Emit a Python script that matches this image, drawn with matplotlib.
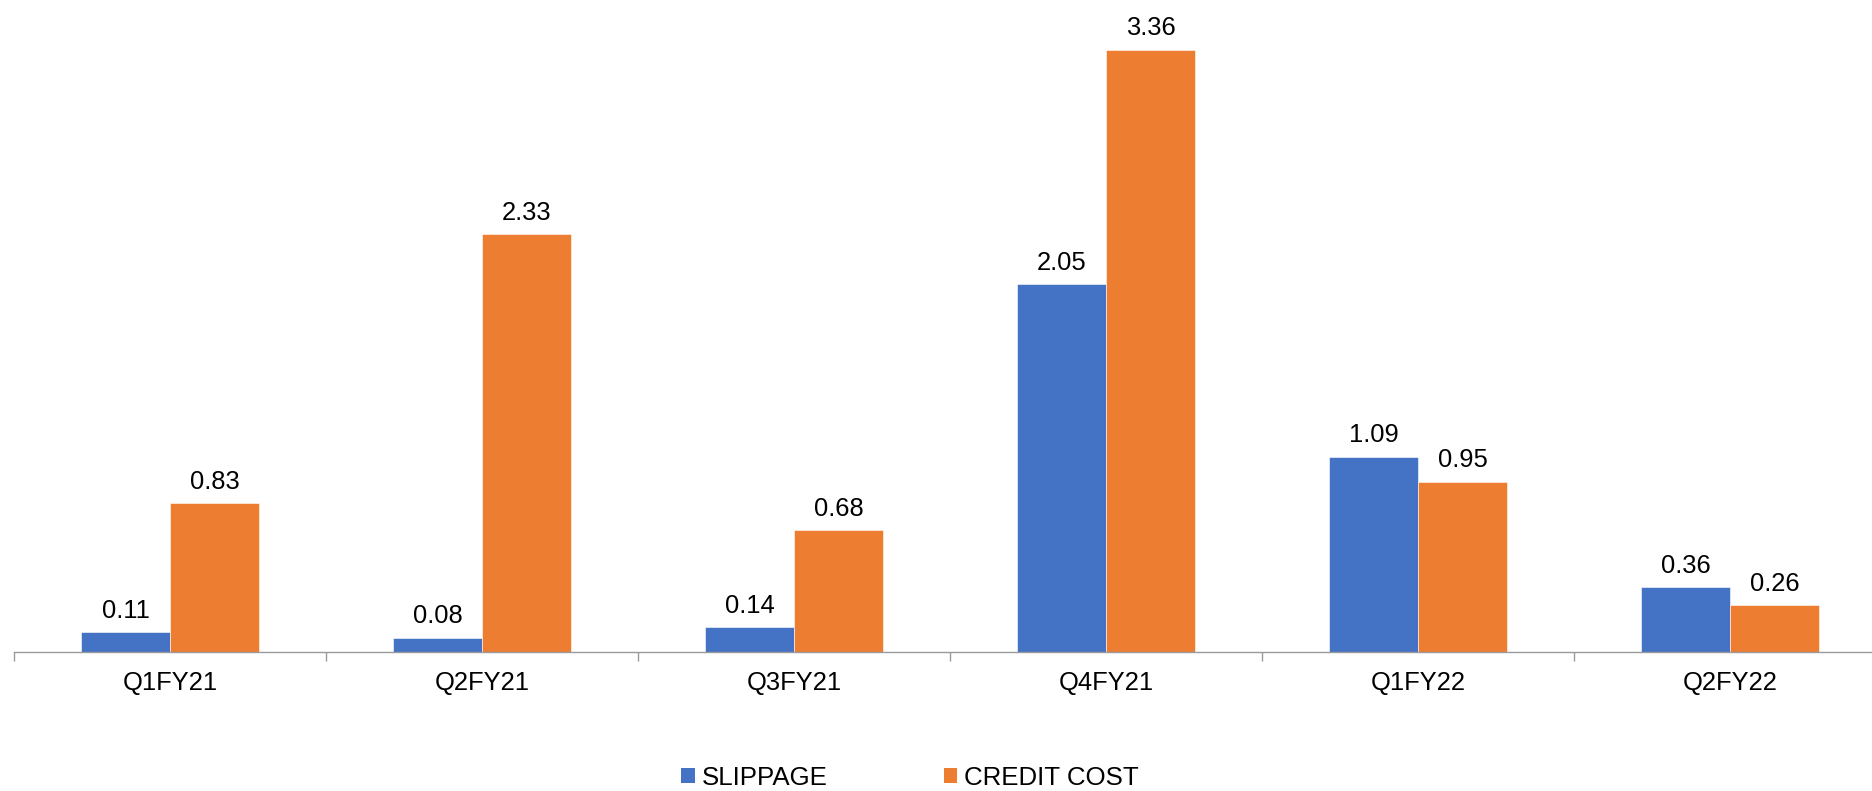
import matplotlib
matplotlib.use("Agg")
import matplotlib.pyplot as plt
from matplotlib.patches import Patch
import numpy as np

plt.rcParams['font.family'] = ['Liberation Sans', 'DejaVu Sans']

quarters = ["Q1FY21", "Q2FY21", "Q3FY21", "Q4FY21", "Q1FY22", "Q2FY22"]
slippage = [0.11, 0.08, 0.14, 2.05, 1.09, 0.36]
credit_cost = [0.83, 2.33, 0.68, 3.36, 0.95, 0.26]
series_names = ["SLIPPAGE", "CREDIT COST"]

BLUE = "#4472C4"
ORANGE = "#ED7D31"
AXIS_GRAY = "#9A9A9A"

W, H = 1872, 791
fig = plt.figure(figsize=(W / 100, H / 100), dpi=100)

base_px = 652
left_px = 14
cat_px = 312
ax = fig.add_axes([left_px / W, (H - base_px) / H, 6 * cat_px / W, base_px / H])

x = np.arange(len(quarters))
bw = 89 / cat_px
b1 = ax.bar(x - bw / 2, slippage, bw, color=BLUE, edgecolor="white", linewidth=0.4)
b2 = ax.bar(x + bw / 2, credit_cost, bw, color=ORANGE, edgecolor="white", linewidth=0.4)

ax.set_xlim(-0.5, len(quarters) - 0.5)
ax.set_ylim(0, base_px / 179.3)

for bars, vals in ((b1, slippage), (b2, credit_cost)):
    for rect, v in zip(bars, vals):
        ax.annotate(f"{v:.2f}", (rect.get_x() + rect.get_width() / 2, v),
                    xytext=(0, 10.3), textcoords="offset points",
                    ha="center", va="baseline", fontsize=18.4, color="black")

for side in ("top", "right", "left"):
    ax.spines[side].set_visible(False)
ax.spines["bottom"].set_color(AXIS_GRAY)
ax.spines["bottom"].set_linewidth(1.0)
ax.set_yticks([])

ax.set_xticks(np.arange(-0.5, len(quarters), 1.0))
ax.set_xticklabels([])
ax.tick_params(axis="x", which="major", length=6.5, width=1.0, color=AXIS_GRAY)
ax.set_xticks(x, minor=True)
ax.set_xticklabels(quarters, minor=True, fontsize=18.4)
ax.tick_params(axis="x", which="minor", length=0, pad=13.5)

handles = [Patch(facecolor=BLUE), Patch(facecolor=ORANGE)]
fig.legend(handles, series_names, loc="center", bbox_to_anchor=(910 / W, 1 - 778 / H),
           ncol=2, frameon=False, fontsize=18.6, handlelength=0.52, handleheight=0.52,
           handletextpad=0.27, columnspacing=4.5, borderpad=0, borderaxespad=0)

fig.savefig("out.png", dpi=100)
